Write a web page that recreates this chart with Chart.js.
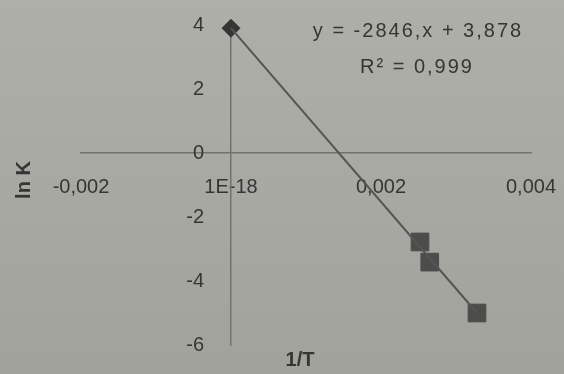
<!DOCTYPE html>
<html>
<head>
<meta charset="utf-8">
<script src="https://cdn.jsdelivr.net/npm/chart.js@4/dist/chart.umd.min.js"></script>
<style>
  html, body { margin: 0; padding: 0; background: #aaaaa5; }
  #wrap { width: 564px; height: 374px; }
</style>
</head>
<body>
<div id="wrap"><canvas id="myChart" width="564" height="374"></canvas></div>
<script>
// values
var startX = [0];
var startY = [3.9];
var pointsX = [0.00252, 0.00265, 0.00328];
var pointsY = [-2.78, -3.41, -5.0];
var trendX = [0, 0.00328];
var trendY = [3.9, -5.0];
var xTicks = [-0.002, 0, 0.002, 0.004];
var yTicks = [-6, -4, -2, 0, 2, 4];
var equation = 'y = -2846,x + 3,878';
var rSquared = 'R² = 0,999';

function pairs(xs, ys)
{
	return xs.map(function (x, i) { return {x: x, y: ys[i]}; });
}

var textColor = '#353533';
var fontFamily = '"Liberation Sans", Arial, sans-serif';

var background = {
	id: 'background',
	beforeDraw: function (chart) {
		var ctx = chart.ctx;
		var g = ctx.createLinearGradient(0, 0, 0, chart.height);
		g.addColorStop(0, '#afafaa');
		g.addColorStop(1, '#a2a29d');
		ctx.save();
		ctx.fillStyle = g;
		ctx.fillRect(0, 0, chart.width, chart.height);
		ctx.restore();
	}
};

var labels = {
	id: 'labels',
	afterDraw: function (chart) {
		var ctx = chart.ctx;
		var xAxis = chart.scales.x;
		var yAxis = chart.scales.y;
		ctx.save();
		ctx.fillStyle = textColor;
		ctx.textBaseline = 'middle';

		// y tick labels, left of the crossing axis
		ctx.textAlign = 'right';
		ctx.font = '20px ' + fontFamily;
		var axisX = xAxis.getPixelForValue(0);
		yTicks.forEach(function (v) {
			ctx.fillText(String(v), axisX - 27, yAxis.getPixelForValue(v));
		});

		ctx.textAlign = 'center';
		ctx.letterSpacing = '2px';
		ctx.fillText(equation, 418, 31);
		ctx.fillText(rSquared, 417, 67);
		ctx.letterSpacing = '0px';

		ctx.font = 'bold 20px ' + fontFamily;
		ctx.fillText('1/T', 300, 360);
		ctx.translate(24, 180);
		ctx.rotate(-Math.PI / 2);
		ctx.fillText('ln K', 0, 0);
		ctx.restore();
	}
};

var ctx = document.getElementById('myChart').getContext('2d');
var myChart = new Chart(ctx, {
	type: 'scatter',
	data: {
		datasets: [
			{
				label: 'trend',
				data: pairs(trendX, trendY),
				showLine: true,
				borderColor: '#555553',
				borderWidth: 2,
				pointRadius: 0,
				clip: false
			},
			{
				label: 'start',
				data: pairs(startX, startY),
				pointStyle: 'rectRot',
				pointRadius: 9,
				backgroundColor: '#363634',
				borderColor: '#363634',
				clip: false
			},
			{
				label: 'measured',
				data: pairs(pointsX, pointsY),
				pointStyle: 'rect',
				pointRadius: 12.5,
				backgroundColor: '#4c4c4a',
				borderColor: '#4c4c4a',
				clip: false
			}
		]
	},
	options: {
		responsive: false,
		animation: false,
		layout: { padding: { left: 81, right: 33, top: 25, bottom: 29 } },
		plugins: { legend: { display: false }, tooltip: { enabled: false } },
		scales: {
			x: {
				type: 'linear',
				min: -0.002,
				max: 0.004,
				position: { y: 0 },
				afterBuildTicks: function (scale) { scale.ticks = xTicks.map(function (v) { return {value: v}; }); },
				afterFit: function (scale) { scale.paddingLeft = 0; scale.paddingRight = 0; },
				grid: { display: false, drawTicks: false },
				border: { display: true, color: '#727270', width: 1.5 },
				ticks: {
					padding: 22,
					color: textColor,
					font: { family: fontFamily, size: 20 },
					callback: function (v) {
						if (v === 0) return '1E-18';
						return v.toFixed(3).replace('.', ',');
					}
				}
			},
			y: {
				type: 'linear',
				min: -6,
				max: 4,
				position: { x: 0 },
				afterBuildTicks: function (scale) { scale.ticks = yTicks.map(function (v) { return {value: v}; }); },
				afterFit: function (scale) { scale.paddingTop = 0; scale.paddingBottom = 0; },
				grid: { display: false, drawTicks: false },
				border: { display: true, color: '#727270', width: 1.5 },
				ticks: { display: false }
			}
		}
	},
	plugins: [background, labels]
});
</script>
</body>
</html>
